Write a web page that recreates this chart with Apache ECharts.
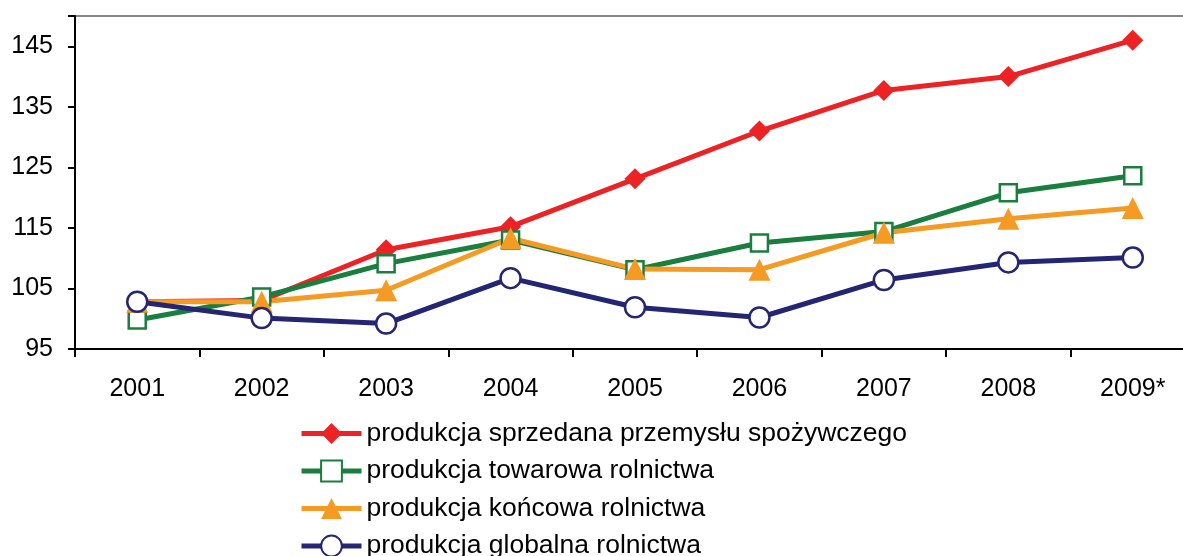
<!DOCTYPE html>
<html>
<head>
    <meta charset="utf-8">
    <title>produkcja</title>
    <script src="https://cdn.jsdelivr.net/npm/echarts@6/dist/echarts.min.js"></script>
    <style>
        body { margin: 0; background: #fff; }
    </style>
</head>
<body>
<div id="main" style="width: 1183px;height:556px;"></div>

<script type="text/javascript">
    // dane
    var years = ['2001', '2002', '2003', '2004', '2005', '2006', '2007', '2008', '2009*'];
    var sprzedana = [102.8, 103.0, 111.4, 115.2, 123.1, 131.0, 137.7, 140.0, 146.0];
    var towarowa = [99.8, 103.6, 109.1, 113.0, 108.1, 112.5, 114.4, 120.8, 123.6];
    var koncowa = [102.8, 102.8, 104.7, 113.3, 108.2, 108.1, 114.2, 116.5, 118.3];
    var globalna = [102.8, 100.1, 99.2, 106.7, 101.9, 100.2, 106.4, 109.3, 110.1];
    var yTicks = [95, 105, 115, 125, 135, 145];

    var font = 'Liberation Sans, Arial, sans-serif';

    var myChart = echarts.init(document.getElementById('main'));

    function serie(name, data, color, symbol, size, empty) {
        return {
            name: name,
            type: 'line',
            data: data,
            symbol: symbol,
            symbolSize: size,
            lineStyle: { color: color, width: 5 },
            itemStyle: empty
                ? { color: '#fff', borderColor: color, borderWidth: 2.5 }
                : { color: color, borderColor: color, borderWidth: 0 },
            animation: false
        };
    }

    var option = {
        animation: false,
        grid: {
            left: 75,
            top: 16,
            width: 1120,
            bottom: 207,
            containLabel: false,
            outerBoundsMode: 'none',
            show: true,
            borderColor: '#888',
            borderWidth: 2
        },
        legend: {
            orient: 'vertical',
            left: 299,
            top: 420,
            height: 200,
            itemWidth: 60,
            itemHeight: 26,
            itemGap: 10.5,
            padding: 0,
            lineStyle: { width: 5 },
            textStyle: { fontFamily: font, fontSize: 26.5, color: '#000', lineHeight: 26 },
            data: [
                'produkcja sprzedana przemysłu spożywczego',
                'produkcja towarowa rolnictwa',
                'produkcja końcowa rolnictwa',
                'produkcja globalna rolnictwa'
            ]
        },
        xAxis: {
            type: 'category',
            data: years,
            boundaryGap: true,
            axisLine: { lineStyle: { color: '#000', width: 2 } },
            axisTick: { show: true, length: 8, lineStyle: { color: '#000', width: 2 } },
            axisLabel: { fontFamily: font, fontSize: 25, color: '#000', margin: 28 }
        },
        yAxis: {
            type: 'value',
            min: 95,
            max: 150,
            interval: 10,
            axisLine: { show: true, lineStyle: { color: '#000', width: 2 } },
            axisTick: { show: true, length: 7, lineStyle: { color: '#000', width: 2 } },
            splitLine: { show: false },
            axisLabel: {
                fontFamily: font, fontSize: 25, color: '#000', margin: 22,
                formatter: function (v) { return yTicks.indexOf(v) >= 0 ? v : ''; }
            }
        },
        series: [
            serie('produkcja sprzedana przemysłu spożywczego', sprzedana, '#ED2224', 'diamond', 21, false),
            serie('produkcja towarowa rolnictwa', towarowa, '#1A7E3E', 'rect', 17, true),
            serie('produkcja końcowa rolnictwa', koncowa, '#F59A23', 'triangle', 22, false),
            serie('produkcja globalna rolnictwa', globalna, '#242673', 'circle', 20, true)
        ]
    };

    myChart.setOption(option);
</script>
</body>
</html>
